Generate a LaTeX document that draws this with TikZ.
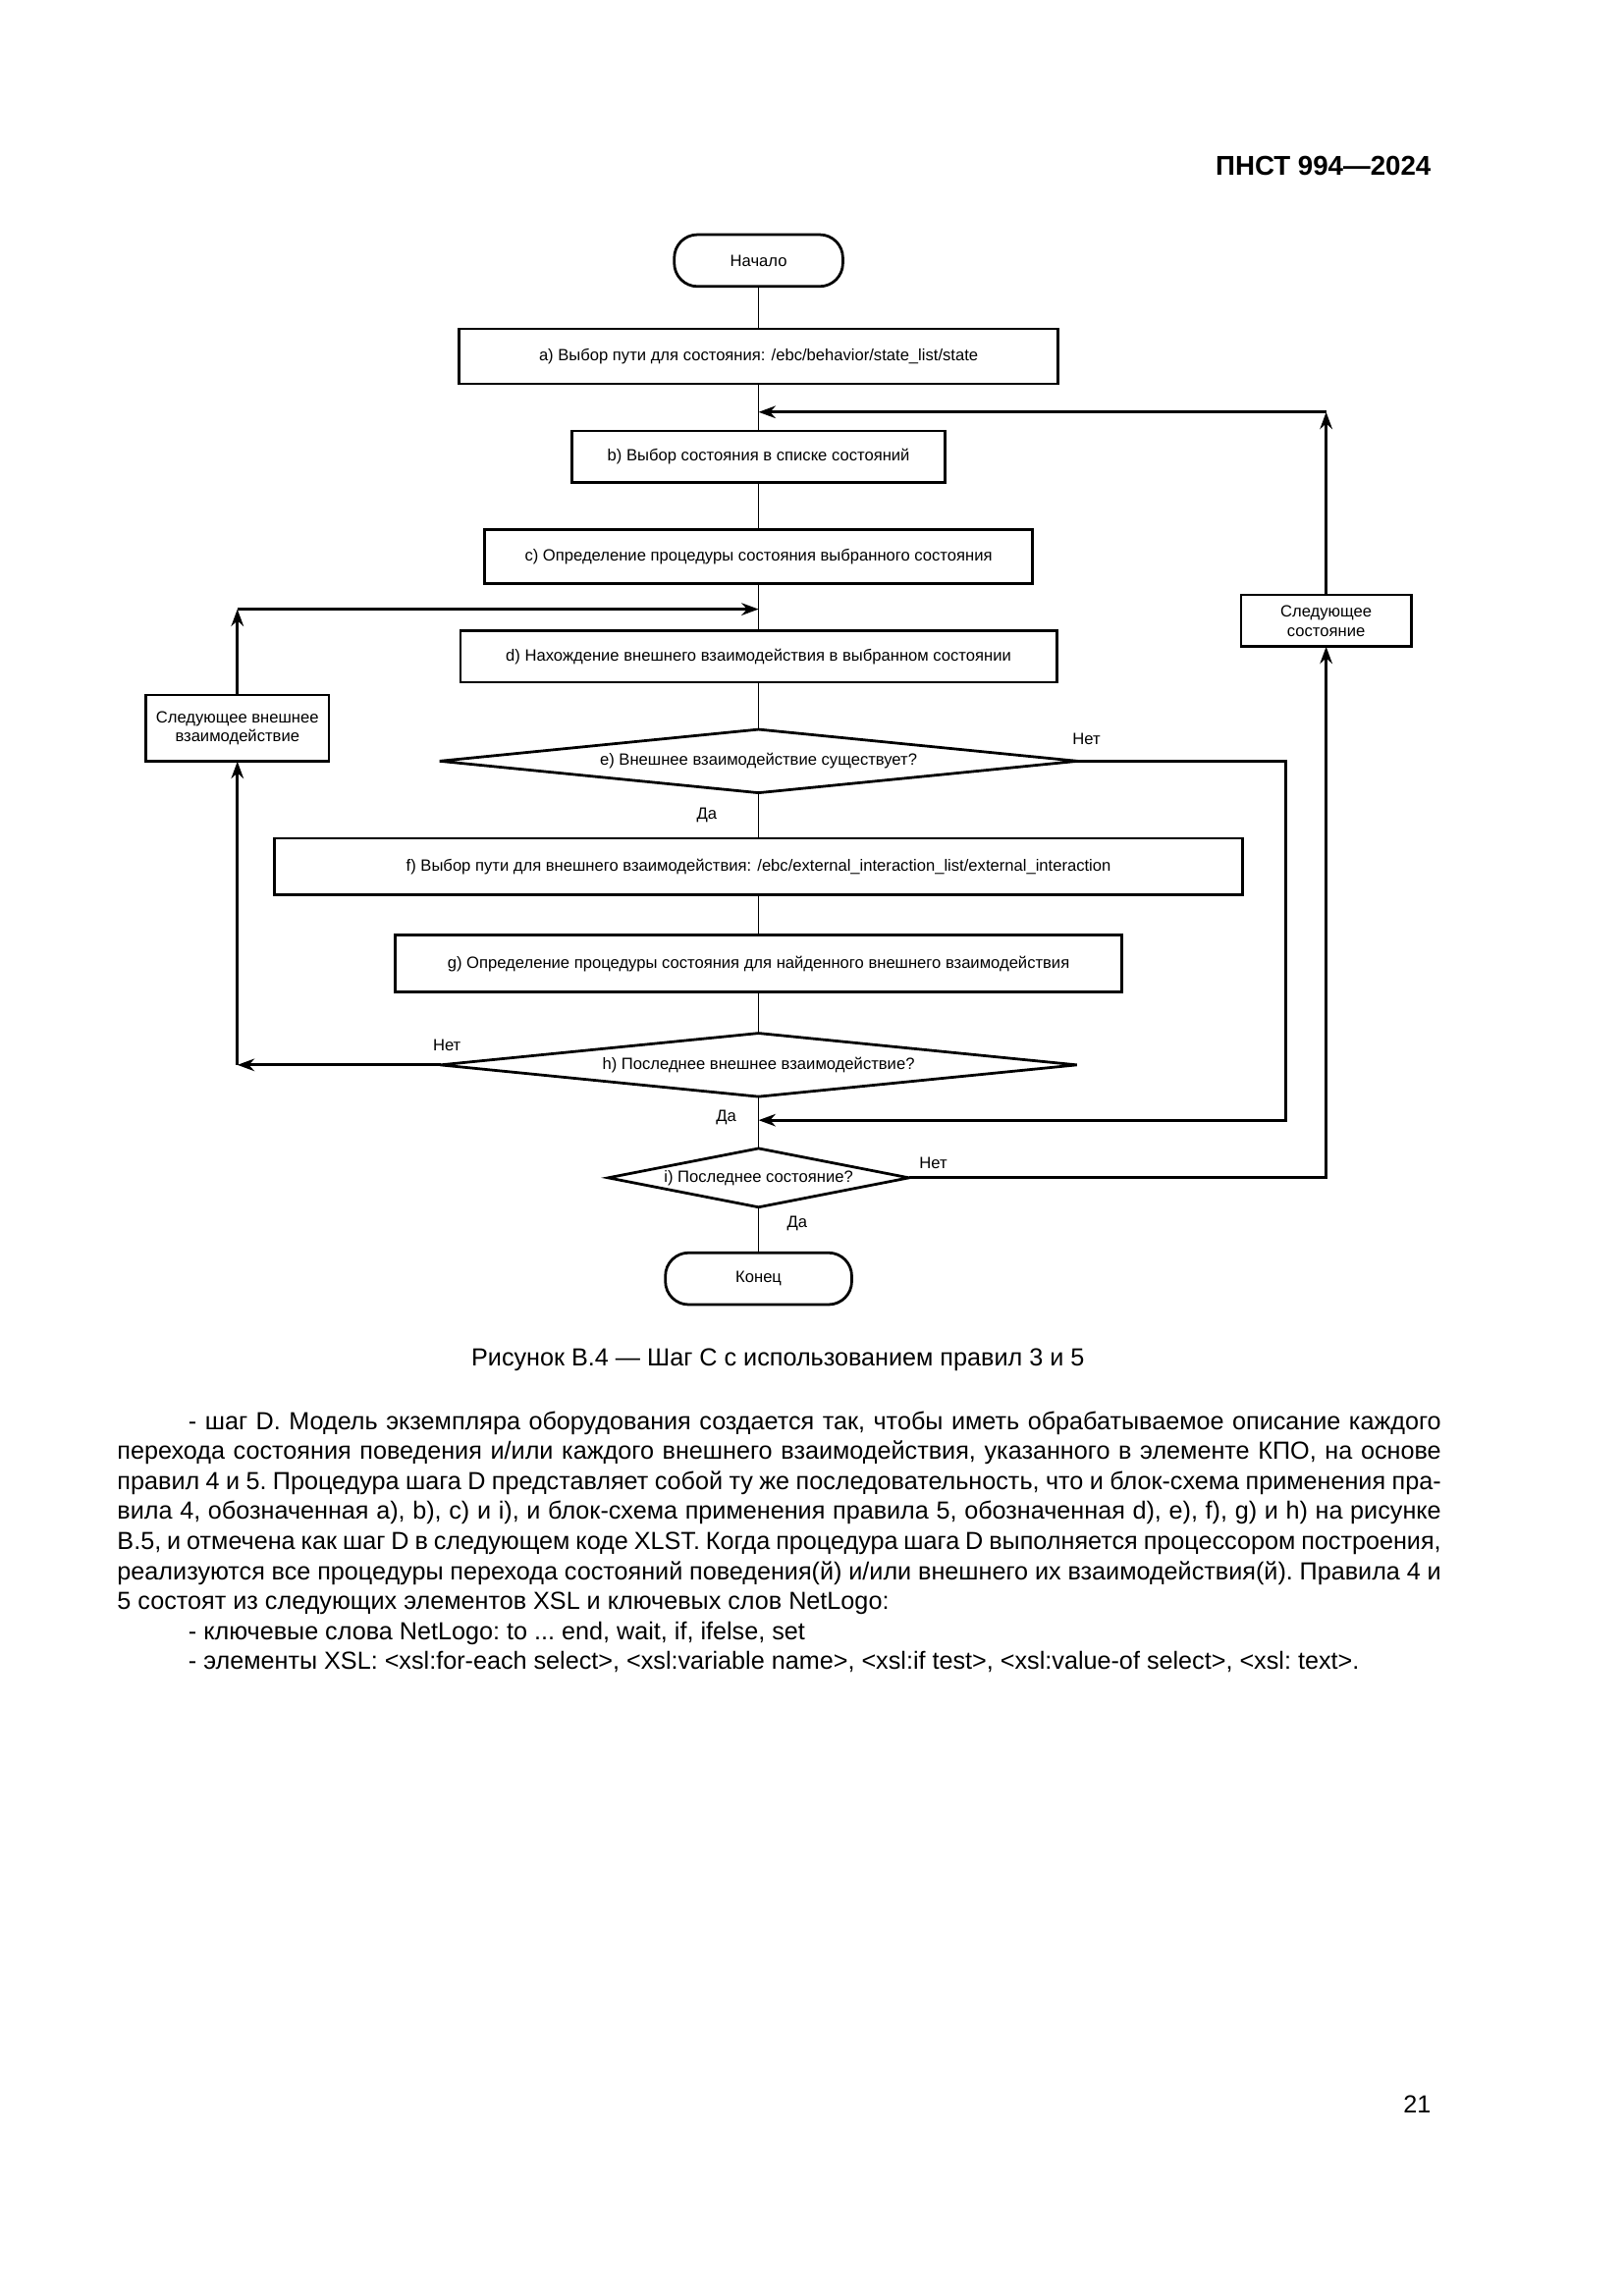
\documentclass[tikz,border=0pt]{standalone}
\usepackage{fontspec}
\setmainfont{Liberation Sans}
\usetikzlibrary{arrows.meta, positioning, shapes.geometric}

\newcommand{\chartfont}{\fontsize{6}{7.2}\selectfont}
\newcommand{\bodyfont}{\fontsize{9.1}{11.05}\selectfont}

\begin{document}
\begin{tikzpicture}[
    x=1mm, y=1mm,
    % Base style for the process boxes
    proc/.style={
        rectangle,
        draw=black,
        line width=1pt,
        minimum height=6.7mm,
        inner sep=1pt,
        align=center,
        font=\chartfont,
        outer sep=0pt
    },
    % Start / end boxes
    term/.style={
        proc,
        rounded corners=3mm
    },
    % Decision boxes
    decide/.style={
        diamond,
        draw=black,
        line width=1pt,
        inner sep=0pt,
        outer sep=0pt,
        aspect=10,
        align=center,
        font=\chartfont
    },
    % Yes / no labels
    lbl/.style={font=\chartfont, inner sep=0pt},
    flow/.style={line width=0.6pt},
    back/.style={line width=1pt, -{Stealth[length=2.2mm,width=1.6mm]}}
]

    \useasboundingbox (0,0) rectangle (210,-297);

    % --- HEADER ---
    \node[anchor=base east, font=\bfseries\fontsize{10}{12}\selectfont] (header) at (186.3,-22.7) {ПНСТ 994—2024};

    % --- MAIN COLUMN ---
    \node[term, minimum width=21.8mm] (start) at (98.1,-33.7) {Начало};
    \node[proc, minimum width=77.5mm, minimum height=7.1mm, below=5.5mm of start] (a) {a) Выбор пути для состояния: /ebc/behavior/state\_list/state};
    \node[proc, minimum width=48.3mm, below=6.1mm of a] (b) {b) Выбор состояния в списке состояний};
    \node[proc, minimum width=70.8mm, minimum height=6.9mm, below=6.1mm of b] (c) {c) Определение процедуры состояния выбранного состояния};
    \node[proc, minimum width=77.1mm, below=6.1mm of c] (d) {d) Нахождение внешнего взаимодействия в выбранном состоянии};
    \node[decide, minimum width=82.5mm, minimum height=8.2mm, below=6.1mm of d] (e) {e) Внешнее взаимодействие существует?};
    \node[proc, minimum width=125.2mm, minimum height=7.3mm, below=5.9mm of e] (f) {f) Выбор пути для внешнего взаимодействия: /ebc/external\_interaction\_list/external\_interaction};
    \node[proc, minimum width=93.9mm, minimum height=7.4mm, below=5.2mm of f] (g) {g) Определение процедуры состояния для найденного внешнего взаимодействия};
    \node[decide, minimum width=82.3mm, minimum height=8.2mm, below=5.3mm of g] (h) {h) Последнее внешнее взаимодействие?};
    \node[decide, aspect=5.1, minimum width=38.9mm, minimum height=7.6mm, below=6.7mm of h] (i) {i) Последнее состояние?};
    \node[term, minimum width=24.1mm, below=5.9mm of i] (stop) {Конец};

    % --- SIDE BOXES ---
    \node[proc, minimum width=23.7mm, minimum height=8.6mm] (nextint) at (30.7,-94.2) {Следующее внешнее\\взаимодействие};
    \node[proc, minimum width=22mm] (nextstate) at (171.5,-80.3) {Следующее\\состояние};

    % Junction points
    \coordinate (rjoin) at (98.1,-53.3);
    \coordinate (rturn) at (nextstate |- rjoin);
    \coordinate (ljoin) at (98.1,-78.8);
    \coordinate (lturn) at (nextint |- ljoin);
    \coordinate (hturn) at (nextint |- h.west);
    \coordinate (ejoin) at (98.1,-144.9);
    \coordinate (eturn) at (166.3,-144.9);

    % --- MAIN FLOW ---
    \draw[flow] (start) -- (a);
    \draw[flow] (a) -- (b);
    \draw[flow] (b) -- (c);
    \draw[flow] (c) -- (d);
    \draw[flow] (d) -- (e);
    \draw[flow] (e) -- (f);
    \draw[flow] (f) -- (g);
    \draw[flow] (g) -- (h);
    \draw[flow] (h) -- (i);
    \draw[flow] (i) -- (stop);

    % --- LOOPS ---
    \draw[back] (h.west) -- (hturn);
    \draw[back] (hturn) -- (nextint.south);
    \draw[back] (nextint.north) -- (lturn);
    \draw[back] (lturn) -- (ljoin);
    \draw[back] (e.east) -| (eturn) -- (ejoin);
    \draw[back] (i.east) -| (nextstate.south);
    \draw[back] (nextstate.north) -- (rturn);
    \draw[back] (rturn) -- (rjoin);

    % --- LABELS ---
    \node[lbl] (eno) at (140.5,-95.6) {Нет};
    \node[lbl] (eyes) at (91.4,-105.4) {Да};
    \node[lbl] (hno) at (57.8,-135.2) {Нет};
    \node[lbl] (hyes) at (93.9,-144.5) {Да};
    \node[lbl] (ino) at (120.7,-150.4) {Нет};
    \node[lbl] (iyes) at (103.1,-158.3) {Да};

    % --- CAPTION ---
    \node[anchor=base, font=\bodyfont] (caption) at (100.6,-176.7) {Рисунок В.4 — Шаг С с использованием правил 3 и 5};

    % --- TEXT ---
    \node[anchor=base west, text width=171.2mm, inner sep=0pt, align=justify, font=\bodyfont] (body) at (15.1,-184.9) {%
        \frenchspacing \hyphenpenalty=10000 \exhyphenpenalty=10000 \tolerance=9999
        \hspace*{9.2mm}- шаг D. Модель экземпляра оборудования создается так, чтобы иметь обрабатываемое описание каждого\linebreak
        перехода состояния поведения и/или каждого внешнего взаимодействия, указанного в элементе КПО, на основе\linebreak
        правил 4 и 5. Процедура шага D представляет собой ту же последовательность, что и блок-схема применения пра-\linebreak
        вила 4, обозначенная a), b), c) и i), и блок-схема применения правила 5, обозначенная d), e), f), g) и h) на рисунке\linebreak
        B.5, и отмечена как шаг D в следующем коде XLST. Когда процедура шага D выполняется процессором построения,\linebreak
        реализуются все процедуры перехода состояний поведения(й) и/или внешнего их взаимодействия(й). Правила 4 и\linebreak
        5 состоят из следующих элементов XSL и ключевых слов NetLogo:\par
        \hspace*{9.2mm}- ключевые слова NetLogo: to ... end, wait, if, ifelse, set\par
        \hspace*{9.2mm}- элементы XSL: <xsl:for-each select>, <xsl:variable name>, <xsl:if test>, <xsl:value-of select>, <xsl: text>.};

    % --- PAGE NUMBER ---
    \node[anchor=base east, font=\bodyfont] (pagenum) at (186.3,-273.3) {21};

\end{tikzpicture}
\end{document}
